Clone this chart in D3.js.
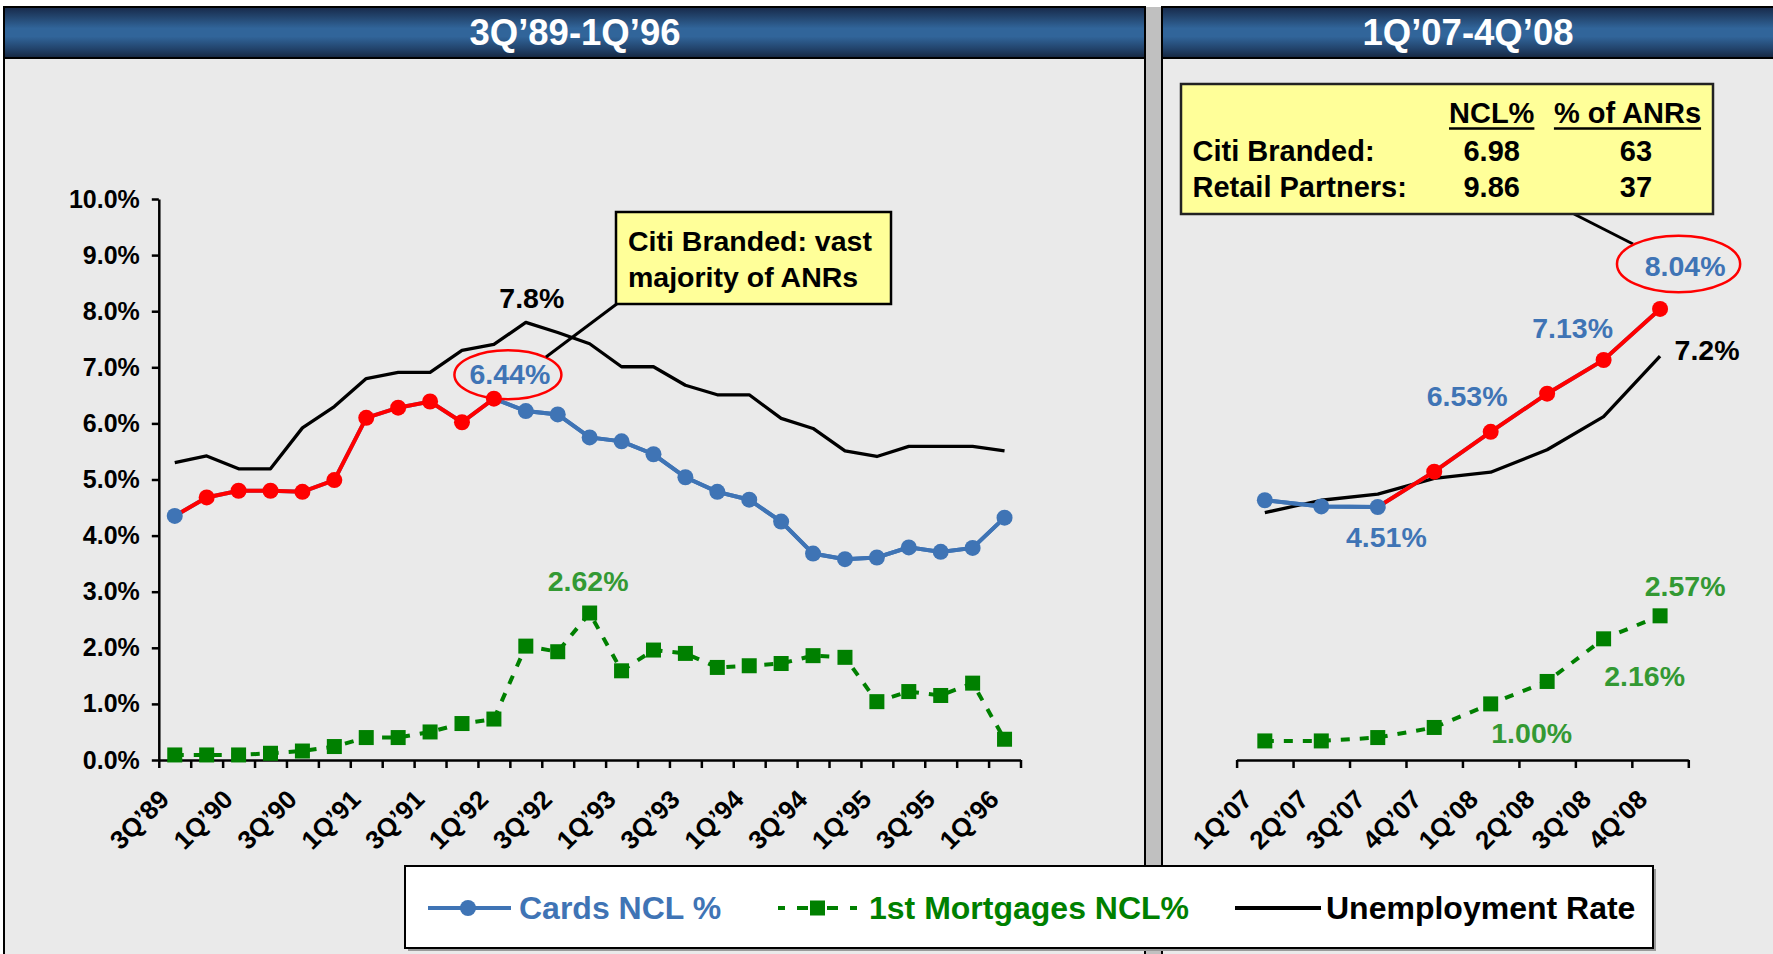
<!DOCTYPE html>
<html><head><meta charset="utf-8">
<script src="https://cdn.jsdelivr.net/npm/d3@7"></script>
<style>
body{margin:0;background:#fff}
svg{display:block;font-family:"Liberation Sans",Arial,sans-serif;font-weight:bold}
</style>
</head><body>
<svg id="c" width="1773" height="954"></svg>
<script>
// ---------------- DATA ----------------
const leftQuarters = ["3Q’89","4Q’89","1Q’90","2Q’90","3Q’90","4Q’90","1Q’91","2Q’91","3Q’91","4Q’91",
  "1Q’92","2Q’92","3Q’92","4Q’92","1Q’93","2Q’93","3Q’93","4Q’93","1Q’94","2Q’94","3Q’94","4Q’94",
  "1Q’95","2Q’95","3Q’95","4Q’95","1Q’96"];
const leftCards = [4.35,4.68,4.80,4.80,4.78,4.99,6.10,6.28,6.39,6.02,6.44,6.22,6.16,5.75,5.68,5.45,5.04,4.78,4.64,4.25,3.68,3.58,3.61,3.79,3.71,3.78,4.32];
const leftMortgages = [0.09,0.09,0.09,0.12,0.16,0.24,0.40,0.40,0.50,0.65,0.73,2.03,1.93,2.62,1.59,1.96,1.90,1.65,1.68,1.72,1.86,1.83,1.04,1.22,1.15,1.37,0.37];
const leftUnemployment = [5.30,5.42,5.19,5.19,5.92,6.30,6.80,6.91,6.91,7.30,7.41,7.80,7.62,7.42,7.01,7.01,6.68,6.51,6.51,6.09,5.91,5.51,5.41,5.59,5.59,5.59,5.51];
const leftHighlightFrom = "4Q’89", leftHighlightTo = "1Q’92";

const rightQuarters = ["1Q’07","2Q’07","3Q’07","4Q’07","1Q’08","2Q’08","3Q’08","4Q’08"];
const rightCards = [4.63,4.52,4.51,5.14,5.85,6.53,7.13,8.04];
const rightMortgages = [0.34,0.34,0.40,0.58,1.00,1.40,2.16,2.57];
const rightUnemployment = [4.41,4.63,4.74,5.02,5.13,5.53,6.12,7.20];
const rightHighlightFrom = "4Q’07";

const yTicks = [0,1,2,3,4,5,6,7,8,9,10];
const panelTitles = ["3Q’89-1Q’96","1Q’07-4Q’08"];
const seriesNames = ["Cards NCL %","1st Mortgages NCL%","Unemployment Rate"];
const calloutLeft = ["Citi Branded: vast","majority of ANRs"];
const tableHeader = ["NCL%","% of ANRs"];
const tableRows = [["Citi Branded:","6.98","63"],["Retail Partners:","9.86","37"]];

// ---------------- STYLE ----------------
const BLUE="#3f74b5", RED="#ff0000", GREEN="#008000", GREEN_TXT="#339933", BG="#eaeaea";

const svg = d3.select("#c");
const defs = svg.append("defs");
const g1 = defs.append("linearGradient").attr("id","tb").attr("x1",0).attr("y1",0).attr("x2",0).attr("y2",1);
[[0,"#17294a"],[0.18,"#22436b"],[0.42,"#31659a"],[0.58,"#31659a"],[0.82,"#22436b"],[1,"#15263f"]]
  .forEach(([o,c])=>g1.append("stop").attr("offset",o).attr("stop-color",c));

svg.append("rect").attr("width",1773).attr("height",954).attr("fill","#fff");
// panels
svg.append("rect").attr("x",4).attr("y",7).attr("width",1141).attr("height",960).attr("fill",BG).attr("stroke","#000").attr("stroke-width",2);
svg.append("rect").attr("x",1162).attr("y",7).attr("width",640).attr("height",960).attr("fill",BG).attr("stroke","#000").attr("stroke-width",2);
svg.append("rect").attr("x",1146).attr("y",7).attr("width",15).attr("height",960).attr("fill","#c0c0c0");
// title bars
svg.append("rect").attr("x",4).attr("y",7).attr("width",1141).attr("height",51).attr("fill","url(#tb)").attr("stroke","#000").attr("stroke-width",2);
svg.append("rect").attr("x",1162).attr("y",7).attr("width",640).attr("height",51).attr("fill","url(#tb)").attr("stroke","#000").attr("stroke-width",2);
svg.append("text").attr("x",575).attr("y",45).attr("text-anchor","middle").attr("fill","#fff").attr("font-size",36.5).text(panelTitles[0]);
svg.append("text").attr("x",1468).attr("y",45).attr("text-anchor","middle").attr("fill","#fff").attr("font-size",36.5).text(panelTitles[1]);

// ---------------- SCALES ----------------
const y = d3.scaleLinear().domain([0,10]).range([760,199]);
const xL = d3.scaleBand().domain(leftQuarters).range([158.8,1020.5]);
const xR = d3.scaleBand().domain(rightQuarters).range([1236.6,1688.3]);
const xiL = d3.scaleLinear().domain([0,leftQuarters.length]).range(xL.range());
const xiR = d3.scaleLinear().domain([0,rightQuarters.length]).range(xR.range());
const cxL = q => xL(q)+xL.bandwidth()/2;
const cxR = q => xR(q)+xR.bandwidth()/2;

// ---------------- AXES ----------------
function styleAxis(g){
  g.select(".domain").attr("stroke","#000").attr("stroke-width",2.5);
  g.selectAll(".tick line").attr("stroke","#000").attr("stroke-width",2.5);
}
svg.append("g").attr("transform","translate(158.8,0)")
  .call(d3.axisLeft(y).tickValues(yTicks).tickSize(7).tickSizeOuter(0).tickPadding(12).tickFormat(d=>d.toFixed(1)+"%"))
  .call(styleAxis)
  .call(g=>g.selectAll("text").attr("font-size",25).attr("font-weight","bold").attr("fill","#000").attr("font-family","Liberation Sans, Arial, sans-serif"));

svg.append("g").attr("transform","translate(0,760)")
  .call(d3.axisBottom(xiL).tickValues(d3.range(leftQuarters.length+1)).tickSize(8).tickSizeOuter(0).tickFormat(""))
  .call(styleAxis);
svg.append("g").attr("transform","translate(0,760)")
  .call(d3.axisBottom(xiR).tickValues(d3.range(rightQuarters.length+1)).tickSize(8).tickSizeOuter(0).tickFormat(""))
  .call(styleAxis);

// x labels
svg.append("g").selectAll("text").data(leftQuarters.filter((d,i)=>i%2===0)).join("text")
  .attr("transform",d=>`translate(${cxL(d)-4},801) rotate(-45)`)
  .attr("text-anchor","end").attr("font-size",26).attr("fill","#000").text(d=>d);
svg.append("g").selectAll("text").data(rightQuarters).join("text")
  .attr("transform",d=>`translate(${cxR(d)-11},801) rotate(-45)`)
  .attr("text-anchor","end").attr("font-size",26).attr("fill","#000").text(d=>d);

// ---------------- SERIES ----------------
function drawPanel(cats, cx, unemp, mort, cards, hiFrom, hiTo){
  const pts = a => a.map((v,i)=>({c:cats[i],v,i}));
  const line = d3.line().x(d=>cx(d.c)).y(d=>y(d.v));
  const iFrom = cats.indexOf(hiFrom), iTo = hiTo ? cats.indexOf(hiTo) : cats.length-1;
  // unemployment
  svg.append("path").datum(pts(unemp)).attr("d",line).attr("fill","none").attr("stroke","#000").attr("stroke-width",3.3).attr("stroke-linejoin","round");
  // mortgages
  svg.append("path").datum(pts(mort)).attr("d",line).attr("fill","none").attr("stroke",GREEN).attr("stroke-width",4).attr("stroke-dasharray","9,10");
  svg.append("g").selectAll("rect").data(pts(mort)).join("rect")
    .attr("x",d=>cx(d.c)-7.5).attr("y",d=>y(d.v)-7.5).attr("width",15).attr("height",15).attr("fill",GREEN);
  // cards
  const cp = pts(cards);
  svg.append("path").datum(cp).attr("d",line).attr("fill","none").attr("stroke",BLUE).attr("stroke-width",4);
  const redLine = hiTo ? cp.filter(d=>d.i>=iFrom-1 && d.i<=iTo) : cp.filter(d=>d.i>=iFrom-1);
  svg.append("path").datum(redLine).attr("d",line).attr("fill","none").attr("stroke",RED).attr("stroke-width",4);
  if(hiTo){
    svg.append("path").datum(cp.filter(d=>d.i>=iTo)).attr("d",line).attr("fill","none").attr("stroke",BLUE).attr("stroke-width",4);
  } else {
    svg.append("path").datum(cp.filter(d=>d.i<iFrom)).attr("d",line).attr("fill","none").attr("stroke",BLUE).attr("stroke-width",4);
  }
  svg.append("g").selectAll("circle").data(cp).join("circle")
    .attr("cx",d=>cx(d.c)).attr("cy",d=>y(d.v)).attr("r",8)
    .attr("fill",d=>(d.i>=iFrom && d.i<=iTo)?RED:BLUE);
}
drawPanel(leftQuarters, cxL, leftUnemployment, leftMortgages, leftCards, leftHighlightFrom, leftHighlightTo);
drawPanel(rightQuarters, cxR, rightUnemployment, rightMortgages, rightCards, rightHighlightFrom, null);

// ---------------- ANNOTATIONS ----------------
function label(x,yy,txt,color,size){
  svg.append("text").attr("x",x).attr("y",yy).attr("text-anchor","middle").attr("fill",color).attr("font-size",size||28.5).text(txt);
}
const iMax = leftUnemployment.indexOf(d3.max(leftUnemployment));
label(cxL(leftQuarters[iMax])+6, y(leftUnemployment[iMax])-14, d3.max(leftUnemployment).toFixed(1)+"%", "#000");
const q644 = leftHighlightTo, v644 = leftCards[leftQuarters.indexOf(q644)];
svg.append("ellipse").attr("cx",cxL(q644)+14).attr("cy",y(v644)-24).attr("rx",53.5).attr("ry",24.5).attr("fill","none").attr("stroke",RED).attr("stroke-width",2.5);
label(cxL(q644)+16, y(v644)-15, v644.toFixed(2)+"%", BLUE);
const iM = leftMortgages.indexOf(d3.max(leftMortgages));
label(cxL(leftQuarters[iM])-1.5, y(leftMortgages[iM])-22, leftMortgages[iM].toFixed(2)+"%", GREEN_TXT);
// left callout
svg.append("line").attr("x1",618).attr("y1",303).attr("x2",546).attr("y2",357).attr("stroke","#000").attr("stroke-width",3);
svg.append("rect").attr("x",616).attr("y",212).attr("width",275).attr("height",92).attr("fill","#ffff99").attr("stroke","#000").attr("stroke-width",2.5);
calloutLeft.forEach((t,i)=>svg.append("text").attr("x",628).attr("y",251+i*36).attr("font-size",28.5).attr("fill","#000").text(t));

// right labels
const R = (q)=>cxR(q), rv = (arr,q)=>arr[rightQuarters.indexOf(q)];
svg.append("line").attr("x1",1574).attr("y1",214).attr("x2",1633).attr("y2",244).attr("stroke","#000").attr("stroke-width",3);
const last = rightQuarters[rightQuarters.length-1];
svg.append("ellipse").attr("cx",R(last)+18.5).attr("cy",y(rv(rightCards,last))-45).attr("rx",61.6).attr("ry",28.3).attr("fill","none").attr("stroke",RED).attr("stroke-width",2.5);
label(R(last)+25, y(rv(rightCards,last))-33, rv(rightCards,last).toFixed(2)+"%", BLUE);
label(R("3Q’08")-31, y(rv(rightCards,"3Q’08"))-22, rv(rightCards,"3Q’08").toFixed(2)+"%", BLUE);
label(R("2Q’08")-80, y(rv(rightCards,"2Q’08"))+12, rv(rightCards,"2Q’08").toFixed(2)+"%", BLUE);
label(R("3Q’07")+8.6, y(rv(rightCards,"3Q’07"))+40, rv(rightCards,"3Q’07").toFixed(2)+"%", BLUE);
label(R(last)+47, y(rv(rightUnemployment,last))+4, rv(rightUnemployment,last).toFixed(1)+"%", "#000");
label(R(last)+25, y(rv(rightMortgages,last))-20, rv(rightMortgages,last).toFixed(2)+"%", GREEN_TXT);
label(R("3Q’08")+41, y(rv(rightMortgages,"3Q’08"))+47, rv(rightMortgages,"3Q’08").toFixed(2)+"%", GREEN_TXT);
label(R("1Q’08")+41, y(rv(rightMortgages,"1Q’08"))+39, rv(rightMortgages,"1Q’08").toFixed(2)+"%", GREEN_TXT);

// right table box
svg.append("rect").attr("x",1181).attr("y",84).attr("width",532).attr("height",130).attr("fill","#ffff99").attr("stroke","#222").attr("stroke-width",2.5);
const colX = [1192.5, 1491.7, 1627.5];
tableHeader.forEach((t,i)=>{
  const tx = svg.append("text").attr("x",colX[i+1]).attr("y",123).attr("text-anchor","middle").attr("font-size",29).attr("fill","#000").text(t);
  const w = tx.node().getComputedTextLength();
  svg.append("line").attr("x1",colX[i+1]-w/2).attr("x2",colX[i+1]+w/2).attr("y1",128.5).attr("y2",128.5).attr("stroke","#000").attr("stroke-width",2.5);
});
tableRows.forEach((r,j)=>{
  const yy = 161 + j*35.5;
  svg.append("text").attr("x",colX[0]).attr("y",yy).attr("font-size",29).attr("fill","#000").text(r[0]);
  svg.append("text").attr("x",colX[1]).attr("y",yy).attr("text-anchor","middle").attr("font-size",29).attr("fill","#000").text(r[1]);
  svg.append("text").attr("x",1636).attr("y",yy).attr("text-anchor","middle").attr("font-size",29).attr("fill","#000").text(r[2]);
});

// ---------------- LEGEND ----------------
const lg = svg.append("g");
lg.append("rect").attr("x",408).attr("y",869).attr("width",1248).attr("height",82).attr("fill","#9a9a9a");
lg.append("rect").attr("x",405).attr("y",866).attr("width",1248).attr("height",82).attr("fill","#fff").attr("stroke","#000").attr("stroke-width",2);
const ly = 908;
lg.append("line").attr("x1",428).attr("x2",511).attr("y1",ly).attr("y2",ly).attr("stroke",BLUE).attr("stroke-width",4);
lg.append("circle").attr("cx",468).attr("cy",ly).attr("r",8).attr("fill",BLUE);
lg.append("text").attr("x",519).attr("y",ly+11).attr("font-size",32).attr("fill",BLUE).text(seriesNames[0]);
[[778,785],[797,808],[827,838],[850,857]].forEach(([a,b])=>
  lg.append("line").attr("x1",a).attr("x2",b).attr("y1",ly).attr("y2",ly).attr("stroke",GREEN).attr("stroke-width",4));
lg.append("rect").attr("x",810).attr("y",ly-7.5).attr("width",15).attr("height",15).attr("fill",GREEN);
lg.append("text").attr("x",869).attr("y",ly+11).attr("font-size",32).attr("fill",GREEN).text(seriesNames[1]);
lg.append("line").attr("x1",1235).attr("x2",1321).attr("y1",ly).attr("y2",ly).attr("stroke","#000").attr("stroke-width",4);
lg.append("text").attr("x",1326).attr("y",ly+11).attr("font-size",32).attr("fill","#000").text(seriesNames[2]);
</script>
</body></html>
